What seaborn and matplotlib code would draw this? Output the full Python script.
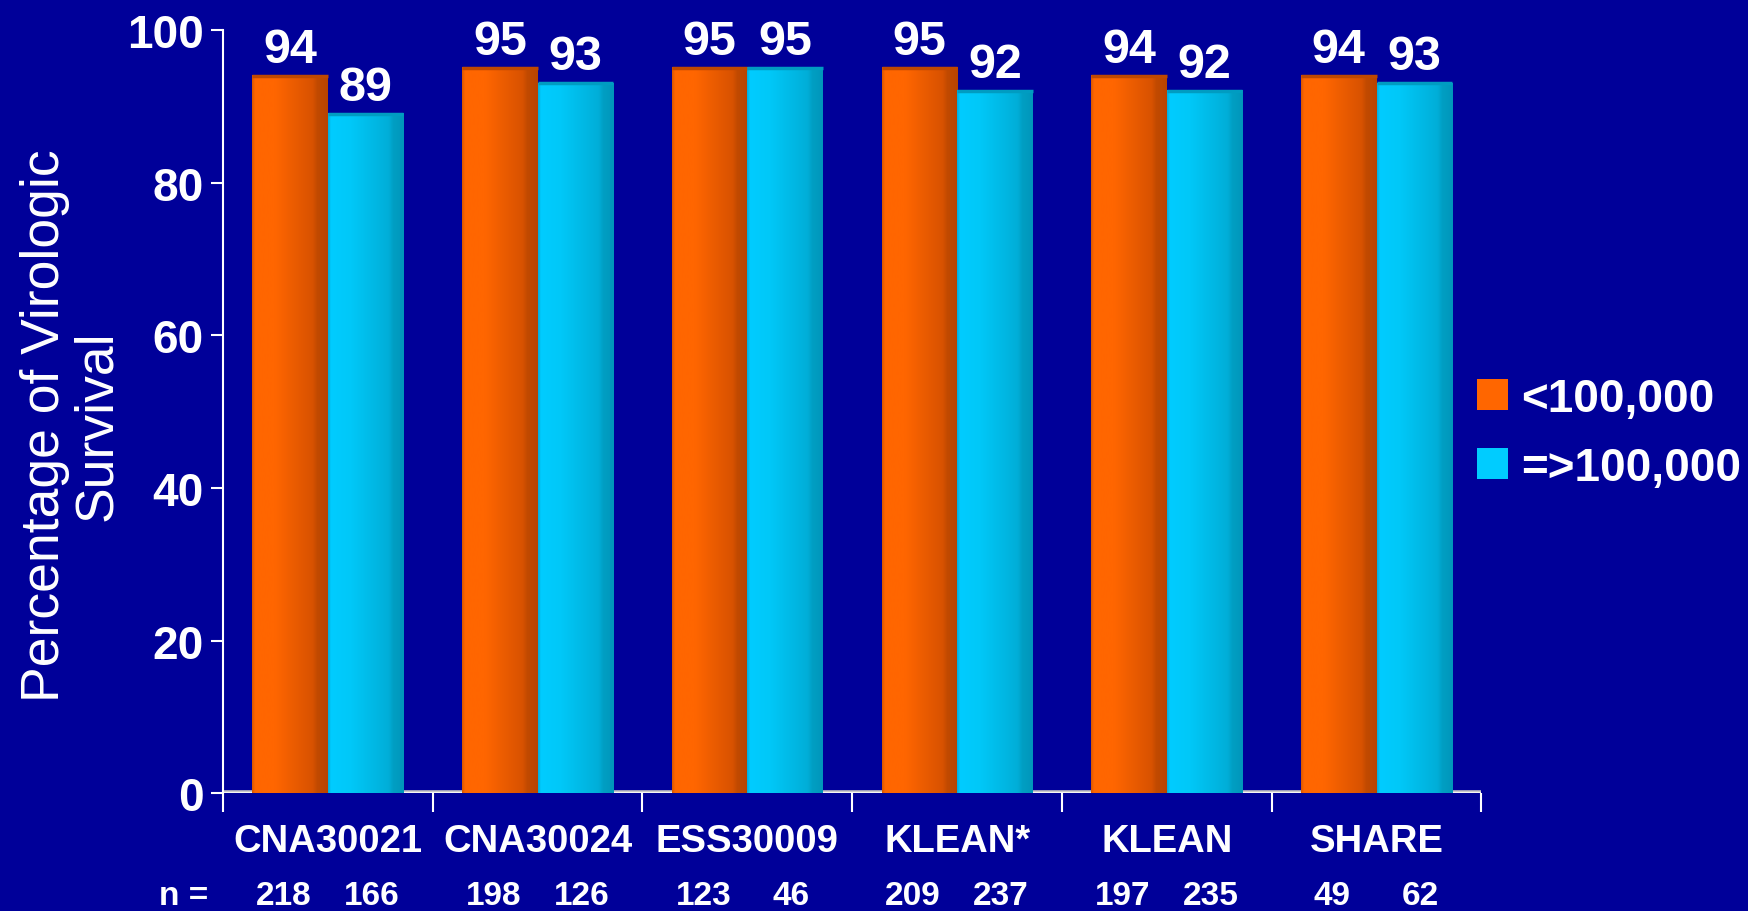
import matplotlib

matplotlib.use("Agg")

import matplotlib.pyplot as plt
import numpy as np
import pandas as pd
import seaborn as sns
from matplotlib.colors import LinearSegmentedColormap
from matplotlib.transforms import blended_transform_factory

# --- data ----------------------------------------------------------------------
studies = ["CNA30021", "CNA30024", "ESS30009", "KLEAN*", "KLEAN", "SHARE"]
groups = ["<100,000", "=>100,000"]
survival_low = [94, 95, 95, 95, 94, 94]
survival_high = [89, 93, 95, 92, 92, 93]
n_low = [218, 198, 123, 209, 197, 49]
n_high = [166, 126, 46, 237, 235, 62]
y_ticks = [0, 20, 40, 60, 80, 100]

BG = "#000099"
ORANGE = "#FF6600"
CYAN = "#00CCFF"
FONT = ["Liberation Sans", "DejaVu Sans"]

frame = pd.DataFrame(
    {
        "study": studies * 2,
        "group": [groups[0]] * len(studies) + [groups[1]] * len(studies),
        "value": survival_low + survival_high,
    }
)

sns.set_style("white")
plt.rcParams["font.family"] = FONT
plt.rcParams["text.color"] = "white"

fig = plt.figure(figsize=(17.49, 9.12), dpi=100, facecolor=BG)
ax = fig.add_axes([0.1275, 0.129, 0.7195, 0.837])
ax.set_facecolor(BG)

sns.barplot(
    data=frame,
    x="study",
    y="value",
    hue="group",
    palette=[ORANGE, CYAN],
    width=0.72,
    gap=0,
    saturation=1,
    linewidth=0,
    ax=ax,
)

# cylinder-ish shading: bright on the left, darker toward the right edge
shades = {
    0: LinearSegmentedColormap.from_list(
        "o", [(0, "#D85600"), (0.04, "#FF6600"), (0.3, "#FF6600"), (0.8, "#D85200"), (0.86, "#C24A00"), (1, "#B84400")]
    ),
    1: LinearSegmentedColormap.from_list(
        "c", [(0, "#00AEDD"), (0.04, "#00CCFF"), (0.3, "#00C8F8"), (0.8, "#00AED8"), (0.86, "#009FC4"), (1, "#0096BA")]
    ),
}
grad = np.linspace(0, 1, 256).reshape(1, -1)
for i, container in enumerate(ax.containers):
    for patch in container.patches:
        x0, w, h = patch.get_x(), patch.get_width(), patch.get_height()
        ax.imshow(grad, cmap=shades[i], extent=(x0, x0 + w, 0, h), aspect="auto", zorder=2.5)
        ax.plot([x0, x0 + w], [h, h], color=shades[i](0.9), lw=2.5, zorder=2.6, solid_capstyle="butt")
    ax.bar_label(container, padding=3, fontsize=35, fontweight="bold", color="white", zorder=4)

ax.set_xlim(-0.5, len(studies) - 0.5)
ax.set_ylim(0, 100)

# axes styling
for side in ["top", "right", "bottom"]:
    ax.spines[side].set_visible(False)
ax.spines["left"].set_color("white")
ax.spines["left"].set_linewidth(1.5)
ax.axhline(0, color="#C8C8C8", lw=4, zorder=2)
ax.axhline(0, color="white", lw=1.2, zorder=2.4)

ax.set_yticks(y_ticks)
ax.set_yticklabels([str(t) for t in y_ticks], fontsize=33, fontweight="bold", color="white")
ax.tick_params(axis="y", direction="out", length=9, width=1.5, color="white", pad=5, left=True)

ax.set_xticks(np.arange(len(studies) + 1) - 0.5, minor=True)
ax.tick_params(axis="x", which="minor", direction="out", length=14, width=1.5, color="white", bottom=True)
ax.set_xticks(range(len(studies)))
ax.set_xticklabels(studies, fontsize=27.5, fontweight="bold", color="white")
ax.tick_params(axis="x", which="major", length=0, pad=21)
ax.set_xlabel("")
ax.set_ylabel("")

# sample sizes below each bar
trans = blended_transform_factory(ax.transData, fig.transFigure)
y_n = 1 - 897 / 912
ax.text(-0.69, y_n, "n =", transform=trans, ha="center", va="center", fontsize=24, fontweight="bold")
for i, (a, b) in enumerate(zip(n_low, n_high)):
    ax.text(i - 0.21, y_n, str(a), transform=trans, ha="center", va="center", fontsize=24, fontweight="bold")
    ax.text(i + 0.21, y_n, str(b), transform=trans, ha="center", va="center", fontsize=24, fontweight="bold")

fig.text(
    71 / 1749,
    1 - 426 / 912,
    "Percentage of Virologic\nSurvival",
    rotation=90,
    ha="center",
    va="center",
    multialignment="center",
    fontsize=38.5,
    linespacing=1.05,
    color="white",
)

handles, labels = ax.get_legend_handles_labels()
ax.legend_.remove()
leg = fig.legend(
    handles,
    labels,
    loc="upper left",
    bbox_to_anchor=(0.8445, 0.586),
    frameon=False,
    prop={"family": FONT, "size": 33, "weight": "bold"},
    handlelength=0.67,
    handleheight=0.67,
    handletextpad=0.3,
    labelspacing=0.55,
    borderpad=0,
    borderaxespad=0,
)
for text in leg.get_texts():
    text.set_color("white")

fig.savefig("out.png", dpi=100, facecolor=BG)
